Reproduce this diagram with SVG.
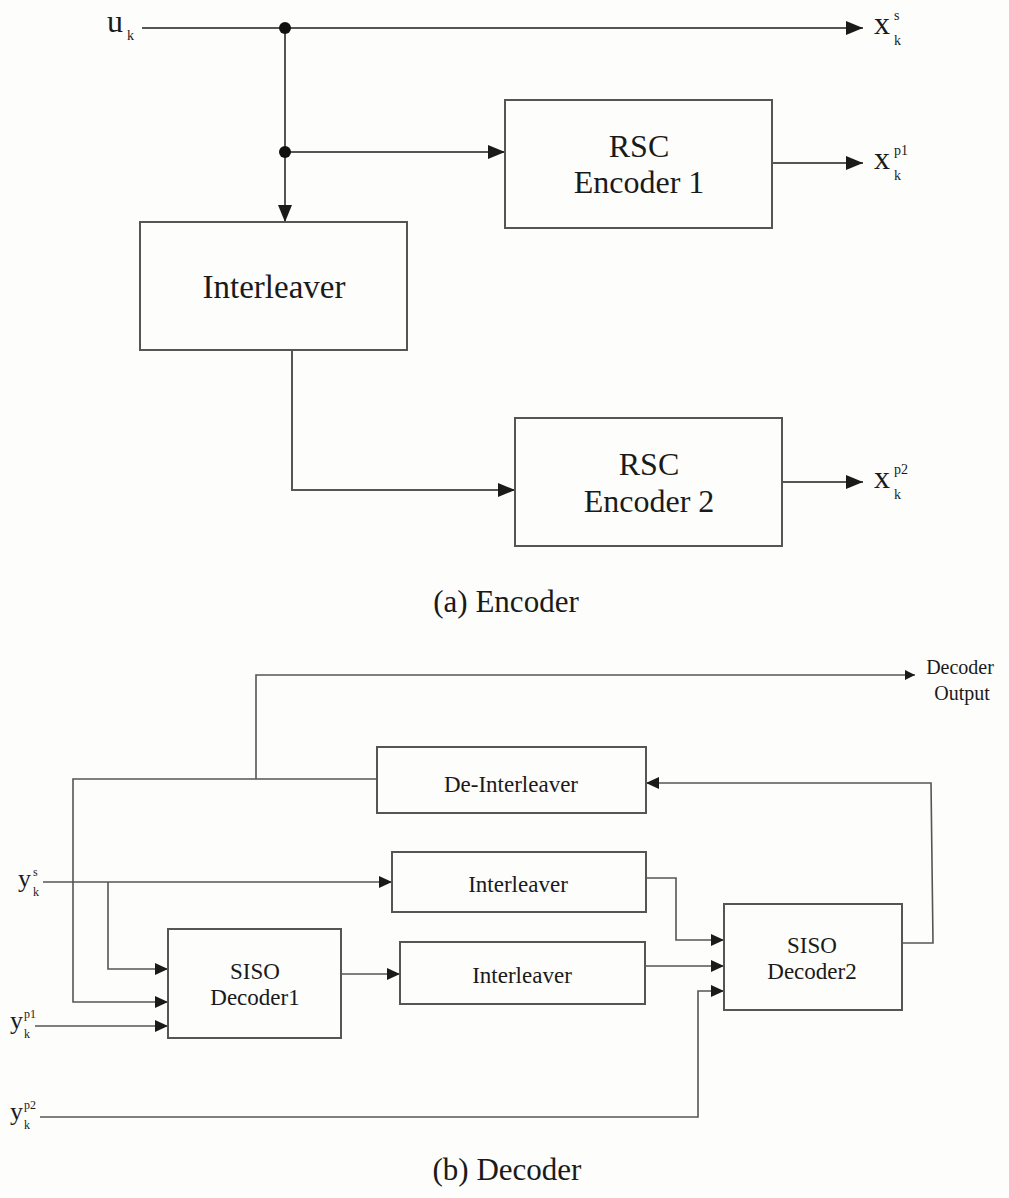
<svg xmlns="http://www.w3.org/2000/svg" width="1009" height="1198" viewBox="0 0 1009 1198">
  <style>
    .box { fill: none; stroke: #555; stroke-width: 2; }
    .wire { fill: none; stroke: #555; stroke-width: 2; }
    .wire-d { fill: none; stroke: #555; stroke-width: 1.6; }
    .lbl { font-family: 'Liberation Serif', Tinos, 'Times New Roman', 'DejaVu Serif', serif; fill: #1a1a1a; }
    .mid { text-anchor: middle; }
  </style>
  <defs>
    <marker id="arrowEnc" markerUnits="userSpaceOnUse" markerWidth="18" markerHeight="14" refX="17" refY="7" orient="auto">
      <path d="M0,0 L17,7 L0,14 z" fill="#1a1a1a"/>
    </marker>
    <marker id="arrowDec" markerUnits="userSpaceOnUse" markerWidth="14" markerHeight="12" refX="13" refY="6" orient="auto">
      <path d="M0,0 L13,6 L0,12 z" fill="#1a1a1a"/>
    </marker>
    <marker id="arrowOut" markerUnits="userSpaceOnUse" markerWidth="11" markerHeight="10" refX="10" refY="5" orient="auto">
      <path d="M0,0 L10,5 L0,10 z" fill="#1a1a1a"/>
    </marker>
  </defs>

  <rect x="0" y="0" width="1009" height="1198" fill="#fdfdfc"/>

  <!-- ===== (a) Encoder ===== -->
  <g id="connectors-encoder">
    <path class="wire" d="M142,28 L863,28" marker-end="url(#arrowEnc)"/>
    <path class="wire" d="M285,28 L285,222" marker-end="url(#arrowEnc)"/>
    <path class="wire" d="M285,152 L505,152" marker-end="url(#arrowEnc)"/>
    <path class="wire" d="M772,163 L863,163" marker-end="url(#arrowEnc)"/>
    <path class="wire" d="M292,350 L292,490 L515,490" marker-end="url(#arrowEnc)"/>
    <path class="wire" d="M782,482 L863,482" marker-end="url(#arrowEnc)"/>
    <circle cx="285" cy="28" r="6" fill="#111"/>
    <circle cx="285" cy="152" r="6" fill="#111"/>
  </g>

  <g id="input-uk" font-family="Liberation Serif, serif">
    <text class="lbl" x="107" y="32" font-size="32">u</text>
    <text class="lbl" x="127" y="40" font-size="14">k</text>
  </g>

  <g id="interleaver-enc" font-family="Liberation Serif, serif">
    <rect class="box" x="140" y="222" width="267" height="128"/>
    <text class="lbl mid" x="274" y="298" font-size="33">Interleaver</text>
  </g>

  <g id="rsc-encoder-1" font-family="Liberation Serif, serif">
    <rect class="box" x="505" y="100" width="267" height="128"/>
    <text class="lbl mid" x="639" y="157" font-size="32">RSC</text>
    <text class="lbl mid" x="639" y="193" font-size="32">Encoder 1</text>
  </g>

  <g id="rsc-encoder-2" font-family="Liberation Serif, serif">
    <rect class="box" x="515" y="418" width="267" height="128"/>
    <text class="lbl mid" x="649" y="475" font-size="32">RSC</text>
    <text class="lbl mid" x="649" y="512" font-size="32">Encoder 2</text>
  </g>

  <g id="output-xs" font-family="Liberation Serif, serif">
    <text class="lbl" x="874" y="34" font-size="32">x</text>
    <text class="lbl" x="894" y="20" font-size="14">s</text>
    <text class="lbl" x="894" y="45" font-size="14">k</text>
  </g>
  <g id="output-xp1" font-family="Liberation Serif, serif">
    <text class="lbl" x="874" y="169" font-size="32">x</text>
    <text class="lbl" x="894" y="155" font-size="14">p1</text>
    <text class="lbl" x="894" y="180" font-size="14">k</text>
  </g>
  <g id="output-xp2" font-family="Liberation Serif, serif">
    <text class="lbl" x="874" y="488" font-size="32">x</text>
    <text class="lbl" x="894" y="474" font-size="14">p2</text>
    <text class="lbl" x="894" y="499" font-size="14">k</text>
  </g>

  <text id="caption-a" class="lbl mid" x="506" y="612" font-size="31">(a) Encoder</text>

  <!-- ===== (b) Decoder ===== -->
  <g id="connectors-decoder">
    <!-- decoder output tap -->
    <path class="wire-d" d="M256,779 L256,675 L915,675" marker-end="url(#arrowOut)"/>
    <!-- de-interleaver feedback into decoder 1 -->
    <path class="wire-d" d="M377,779 L73,779 L73,1002 L168,1002" marker-end="url(#arrowDec)"/>
    <!-- systematic input -->
    <path class="wire-d" d="M43,882 L392,882" marker-end="url(#arrowDec)"/>
    <path class="wire-d" d="M108,882 L108,969 L168,969" marker-end="url(#arrowDec)"/>
    <!-- parity 1 -->
    <path class="wire-d" d="M35,1026 L168,1026" marker-end="url(#arrowDec)"/>
    <!-- decoder 1 to interleaver -->
    <path class="wire-d" d="M341,974 L400,974" marker-end="url(#arrowDec)"/>
    <!-- interleavers to decoder 2 -->
    <path class="wire-d" d="M646,878 L676,878 L676,940 L724,940" marker-end="url(#arrowDec)"/>
    <path class="wire-d" d="M645,966 L724,966" marker-end="url(#arrowDec)"/>
    <!-- parity 2 -->
    <path class="wire-d" d="M40,1117 L698,1117 L698,991 L724,991" marker-end="url(#arrowDec)"/>
    <!-- decoder 2 feedback to de-interleaver -->
    <path class="wire-d" d="M902,943 L933,943 L931,783 L646,783" marker-end="url(#arrowDec)"/>
  </g>

  <g id="decoder-output-label" font-family="Liberation Serif, serif">
    <text class="lbl mid" x="960" y="674" font-size="20">Decoder</text>
    <text class="lbl mid" x="962" y="700" font-size="20">Output</text>
  </g>

  <g id="de-interleaver" font-family="Liberation Serif, serif">
    <rect class="box" x="377" y="747" width="269" height="66"/>
    <text class="lbl mid" x="511" y="792" font-size="23">De-Interleaver</text>
  </g>

  <g id="interleaver-dec-1" font-family="Liberation Serif, serif">
    <rect class="box" x="392" y="852" width="254" height="60"/>
    <text class="lbl mid" x="518" y="892" font-size="23">Interleaver</text>
  </g>

  <g id="interleaver-dec-2" font-family="Liberation Serif, serif">
    <rect class="box" x="400" y="942" width="245" height="62"/>
    <text class="lbl mid" x="522" y="983" font-size="23">Interleaver</text>
  </g>

  <g id="siso-decoder-1" font-family="Liberation Serif, serif">
    <rect class="box" x="168" y="929" width="173" height="109"/>
    <text class="lbl mid" x="255" y="979" font-size="23">SISO</text>
    <text class="lbl mid" x="255" y="1005" font-size="23">Decoder1</text>
  </g>

  <g id="siso-decoder-2" font-family="Liberation Serif, serif">
    <rect class="box" x="724" y="904" width="178" height="106"/>
    <text class="lbl mid" x="812" y="953" font-size="23">SISO</text>
    <text class="lbl mid" x="812" y="979" font-size="23">Decoder2</text>
  </g>

  <g id="input-ys" font-family="Liberation Serif, serif">
    <text class="lbl" x="18" y="887" font-size="26">y</text>
    <text class="lbl" x="33" y="876" font-size="12">s</text>
    <text class="lbl" x="33" y="896" font-size="12">k</text>
  </g>
  <g id="input-yp1" font-family="Liberation Serif, serif">
    <text class="lbl" x="10" y="1029" font-size="26">y</text>
    <text class="lbl" x="24" y="1018" font-size="12">p1</text>
    <text class="lbl" x="24" y="1038" font-size="12">k</text>
  </g>
  <g id="input-yp2" font-family="Liberation Serif, serif">
    <text class="lbl" x="10" y="1120" font-size="26">y</text>
    <text class="lbl" x="24" y="1109" font-size="12">p2</text>
    <text class="lbl" x="24" y="1129" font-size="12">k</text>
  </g>

  <text id="caption-b" class="lbl mid" x="507" y="1180" font-size="31">(b) Decoder</text>
</svg>
